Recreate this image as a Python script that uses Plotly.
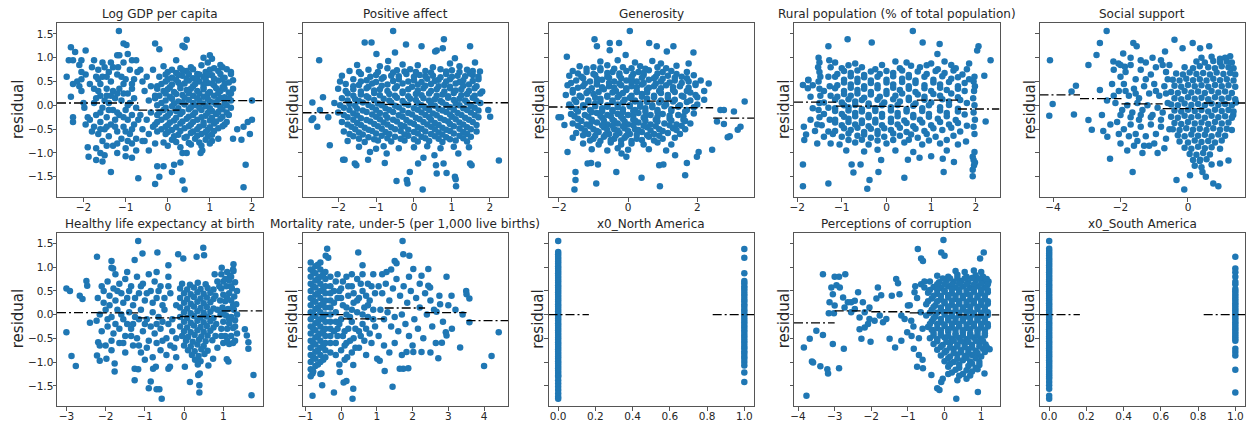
import plotly.graph_objects as go

# ---------------- data ----------------
titles = ["Log GDP per capita", "Positive affect", "Generosity",
          "Rural population (% of total population)", "Social support",
          "Healthy life expectancy at birth",
          "Mortality rate, under-5 (per 1,000 live births)",
          "x0_North America", "Perceptions of corruption", "x0_South America"]

x_ranges = [[-2.63, 2.25], [-2.94, 2.48], [-2.30, 3.64], [-2.07, 2.53], [-4.40, 1.69],
            [-3.24, 2.00], [-1.08, 4.67], [-0.052, 1.052], [-4.11, 1.50], [-0.052, 1.052]]
x_ticks = [[-2, -1, 0, 1, 2], [-2, -1, 0, 1, 2], [-2, 0, 2], [-2, -1, 0, 1, 2], [-4, -2, 0],
           [-3, -2, -1, 0, 1], [-1, 0, 1, 2, 3, 4], [0, 0.2, 0.4, 0.6, 0.8, 1.0],
           [-4, -3, -2, -1, 0, 1], [0, 0.2, 0.4, 0.6, 0.8, 1.0]]
y_ticks = [-1.5, -1.0, -0.5, 0.0, 0.5, 1.0, 1.5]
y_range = [-1.925, 1.73]

# binned residual means (dash-dot segments): start, end, mean
gdp_seg_start = [-2.63, -0.70, 0.28, 1.27]
gdp_seg_end = [-0.70, 0.28, 1.27, 2.25]
gdp_seg_mean = [0.05, -0.10, 0.03, 0.10]
pa_seg_start = [-2.94, -1.87, -0.77, 0.33, 1.39]
pa_seg_end = [-1.87, -0.77, 0.33, 1.39, 2.48]
pa_seg_mean = [-0.155, 0.06, 0.02, -0.03, 0.055]
gen_seg_start = [-2.30, -1.17, 0.05, 1.26, 2.46]
gen_seg_end = [-1.17, 0.05, 1.26, 2.46, 3.64]
gen_seg_mean = [-0.035, 0.02, 0.09, -0.05, -0.27]
rur_seg_start = [-2.07, -1.13, -0.20, 0.68, 1.60]
rur_seg_end = [-1.13, -0.20, 0.68, 1.60, 2.53]
rur_seg_mean = [0.07, -0.015, -0.02, 0.11, -0.077]
soc_seg_start = [-4.40, -3.20, -1.97, -0.75, 0.47]
soc_seg_end = [-3.20, -1.97, -0.75, 0.47, 1.69]
soc_seg_mean = [0.22, 0.14, 0.03, -0.07, 0.05]
hle_seg_start = [-3.24, -2.20, -1.17, -0.10, 0.96]
hle_seg_end = [-2.20, -1.17, -0.10, 0.96, 2.00]
hle_seg_mean = [0.04, 0.035, -0.07, -0.04, 0.08]
mor_seg_start = [-1.08, 0.06, 1.22, 2.35, 3.51]
mor_seg_end = [0.06, 1.22, 2.35, 3.51, 4.67]
mor_seg_mean = [0.0, -0.09, 0.14, 0.04, -0.126]
na_seg_start = [-0.052, 0.83]
na_seg_end = [0.165, 1.052]
na_seg_mean = [0.0, 0.0]
cor_seg_start = [-4.11, -3.00, -2.00, -0.95, 0.36]
cor_seg_end = [-3.00, -2.00, -0.95, 0.36, 1.50]
cor_seg_mean = [-0.175, 0.08, 0.06, 0.035, -0.007]
sa_seg_start = [-0.052, 0.83]
sa_seg_end = [0.165, 1.052]
sa_seg_mean = [0.0, 0.0]

# scatter points (feature value, residual)
gdp_pts = [
    (-1.16, 1.56), (-2.3, 1.22), (-2.2, 1.12), (-1.95, 1.15), (-2.35, 0.95), (-2.25, 0.95), (-2.05, 0.95),
    (-2.4, 0.6), (-2.25, 0.45), (-2.3, 0.18), (-2.25, -0.25), (-2.25, -0.35), (-2.15, 0.5), (-2.1, 0.4),
    (-2.05, 0.55), (-2.0, 0.05), (-1.98, -0.05), (-2.1, 0.85), (-1.95, 0.65), (-1.9, -0.88), (-1.88, -1.08),
    (-1.95, -0.4), (-1.9, -0.25), (-2.05, 0.7), (-2.05, 0.3),
    (-1.05, 1.3), (-0.98, 1.27), (-1.15, 1.05), (-1.2, 1.05), (-0.95, 1.08), (-0.85, 0.95), (-0.75, 0.95),
    (-0.65, 0.75), (-0.3, 1.3), (-0.2, 1.18), (0.35, 1.25), (0.45, 1.38), (0.4, 1.22), (0.2, 0.95),
    (0.85, 1.0), (1.0, 1.05), (1.05, 0.98), (0.95, 0.9), (1.25, 0.85), (1.5, 0.7),
    (-1.35, -1.4), (-0.7, -1.53), (-0.3, -1.65), (-0.2, -1.5), (0.35, -1.58), (0.4, -1.77), (0.3, -1.2),
    (0.1, -1.4), (0.15, -1.25), (0.35, -1.0), (0.45, -1.0), (-0.1, -1.28), (-0.25, -1.28), (-1.0, -1.07),
    (-0.85, -1.1), (-1.7, -1.15), (-1.55, -1.18), (1.85, -1.25), (1.8, -1.72), (1.95, -0.6), (1.9, -0.35),
    (2.0, -0.3), (2.0, 0.1), (1.65, -0.5), (1.75, -0.72), (1.55, -0.7), (1.8, -0.45), (0.78, -1.0),
    (0.82, -0.95), (1.05, -0.75), (1.2, -0.7),
    (-1.8, 0.8), (-1.75, 0.95), (-1.7, 0.6), (-1.65, 0.55), (-1.6, 0.45), (-1.55, 0.6), (-1.5, 0.8),
    (-1.45, 0.35), (-1.4, 0.7), (-1.35, 0.5), (-1.3, 0.3), (-1.18, 0.8), (-1.1, 0.6), (-1.05, 0.9),
    (-0.9, 0.75), (-0.8, 0.55), (-0.72, 0.7), (-1.15, 0.35), (-1.05, 0.45), (-0.95, 0.25), (-0.85, 0.35),
    (-1.6, 0.2), (-1.75, 0.35), (-1.85, 0.45), (-1.7, 0.15), (-1.5, 0.1), (-1.4, 0.05), (-1.25, 0.15),
    (-1.1, 0.1), (-0.9, 0.05), (-0.8, 0.15), (-1.55, -0.05), (-1.3, -0.1), (-1.0, -0.1), (-0.75, -0.05),
    (-1.85, -0.3), (-1.75, -0.45), (-1.7, -0.2), (-1.65, -0.6), (-1.6, -0.35), (-1.55, -0.75), (-1.5, -0.5),
    (-1.45, -0.25), (-1.4, -0.65), (-1.35, -0.4), (-1.3, -0.85), (-1.25, -0.3), (-1.2, -0.55), (-1.15, -0.2),
    (-1.1, -0.7), (-1.05, -0.45), (-1.0, -0.9), (-0.95, -0.3), (-0.9, -0.6), (-0.85, -0.8), (-0.8, -0.4),
    (-0.75, -0.7), (-0.7, -0.3), (-1.7, -0.9), (-1.6, -1.0), (-1.5, -1.05), (-1.2, -1.0), (-0.75, -0.95),
    (-0.6, 0.5), (-0.55, 0.3), (-0.5, 0.6), (-0.45, 0.1), (-0.4, 0.4), (-0.35, 0.75), (-0.3, 0.2),
    (-0.65, -0.2), (-0.6, -0.5), (-0.55, -0.75), (-0.5, -0.3), (-0.45, -0.6), (-0.4, -0.15), (-0.35, -0.45),
    (-0.3, -0.8), (-0.6, -0.75), (-0.45, -0.95),
    (-1.65, 0.75), (-1.45, 0.6), (-1.3, 0.8), (-1.2, 0.65), (-1.0, 0.55), (-0.85, 0.45), (-1.65, 0.3),
    (-1.45, 0.2), (-1.35, 0.2), (-1.2, 0.25), (-1.05, 0.25), (-0.95, 0.0), (-1.75, 0.05), (-1.6, -0.15),
    (-1.4, -0.1), (-1.2, -0.15), (-1.05, -0.25), (-0.85, -0.2), (-1.8, -0.55), (-1.6, -0.5), (-1.45, -0.45),
    (-1.25, -0.45), (-1.0, -0.55), (-0.85, -0.5), (-1.45, -0.85), (-1.2, -0.8), (-0.95, -0.75), (-1.35, 0.9),
    (-1.55, 0.9),
    (-0.1, 0.82), (0.3, 0.78), (0.55, 0.8), (0.8, 0.84), (1.1, 0.78), (1.3, 0.8),
    (0.0, 0.7), (0.2, 0.68), (0.45, 0.72), (0.7, 0.66), (0.9, 0.7), (1.2, 0.72), (1.5, 0.66),
    (-0.2, 0.6), (0.1, 0.58), (0.35, 0.62), (0.6, 0.57), (0.85, 0.6), (1.05, 0.63), (1.35, 0.58),
    (-0.05, 0.5), (0.25, 0.48), (0.5, 0.52), (0.75, 0.5), (0.95, 0.47), (1.2, 0.52), (1.45, 0.48),
    (-0.25, 0.4), (0.05, 0.38), (0.3, 0.42), (0.6, 0.4), (0.85, 0.38), (1.1, 0.42), (1.3, 0.38), (1.55, 0.35),
    (-0.1, 0.3), (0.15, 0.28), (0.45, 0.32), (0.7, 0.3), (1.0, 0.28), (1.25, 0.3), (1.45, 0.27),
    (-0.2, 0.2), (0.05, 0.18), (0.35, 0.22), (0.6, 0.2), (0.85, 0.18), (1.1, 0.2), (1.35, 0.17),
    (-0.05, 0.1), (0.25, 0.08), (0.5, 0.12), (0.75, 0.1), (1.0, 0.08), (1.2, 0.12), (1.5, 0.1),
    (-0.25, 0.0), (0.1, -0.02), (0.4, 0.02), (0.65, 0.0), (0.9, -0.02), (1.15, 0.02), (1.4, 0.0),
    (-0.1, -0.1), (0.2, -0.12), (0.5, -0.08), (0.8, -0.1), (1.05, -0.12), (1.3, -0.08),
    (-0.25, -0.2), (0.0, -0.22), (0.3, -0.18), (0.6, -0.2), (0.9, -0.22), (1.15, -0.18), (1.45, -0.2),
    (-0.15, -0.3), (0.15, -0.32), (0.45, -0.28), (0.7, -0.3), (1.0, -0.32), (1.25, -0.28),
    (-0.3, -0.4), (0.0, -0.42), (0.3, -0.38), (0.55, -0.4), (0.85, -0.42), (1.1, -0.38), (1.35, -0.4),
    (-0.15, -0.5), (0.1, -0.52), (0.4, -0.48), (0.7, -0.5), (0.95, -0.52), (1.2, -0.48),
    (-0.05, -0.6), (0.25, -0.62), (0.55, -0.58), (0.8, -0.6), (1.05, -0.62),
    (0.1, -0.72), (0.4, -0.68), (0.65, -0.7), (0.9, -0.72),
    (0.0, -0.85), (0.3, -0.88), (0.55, -0.82), (0.8, -0.85),
    (0.1, 0.75), (0.35, 0.74), (0.6, 0.76), (1.0, 0.75), (1.4, 0.76),
    (-0.05, 0.65), (0.25, 0.64), (0.5, 0.66), (0.75, 0.65), (0.95, 0.64), (1.25, 0.66),
    (0.0, 0.55), (0.2, 0.54), (0.45, 0.56), (0.7, 0.55), (0.9, 0.54), (1.1, 0.56), (1.3, 0.55), (1.55, 0.53),
    (-0.15, 0.45), (0.1, 0.44), (0.4, 0.46), (0.65, 0.45), (0.85, 0.44), (1.05, 0.46), (1.35, 0.45),
    (-0.25, 0.35), (0.0, 0.34), (0.3, 0.36), (0.55, 0.35), (0.85, 0.34), (1.15, 0.36), (1.35, 0.35),
    (-0.05, 0.25), (0.2, 0.24), (0.5, 0.26), (0.75, 0.25), (0.95, 0.24), (1.2, 0.26), (1.5, 0.25),
    (-0.3, 0.15), (0.1, 0.14), (0.4, 0.16), (0.7, 0.15), (0.95, 0.14), (1.25, 0.16), (1.45, 0.15),
    (-0.15, 0.05), (0.15, 0.04), (0.35, 0.06), (0.6, 0.05), (0.85, 0.04), (1.1, 0.06), (1.35, 0.05),
    (-0.05, -0.05), (0.25, -0.06), (0.55, -0.04), (0.75, -0.05), (1.0, -0.06), (1.25, -0.04), (1.5, -0.05),
    (-0.2, -0.15), (0.05, -0.16), (0.35, -0.14), (0.65, -0.15), (0.95, -0.16), (1.2, -0.14), (1.4, -0.15),
    (-0.05, -0.25), (0.2, -0.26), (0.5, -0.24), (0.8, -0.25), (1.05, -0.26), (1.3, -0.24),
    (-0.25, -0.35), (0.05, -0.36), (0.35, -0.34), (0.6, -0.35), (0.85, -0.36), (1.15, -0.34), (1.4, -0.35),
    (-0.05, -0.45), (0.2, -0.46), (0.5, -0.44), (0.75, -0.45), (1.0, -0.46), (1.3, -0.44),
    (-0.25, -0.55), (0.0, -0.56), (0.3, -0.54), (0.6, -0.55), (0.9, -0.56), (1.1, -0.54),
    (0.15, -0.65), (0.45, -0.66), (0.7, -0.64), (0.95, -0.65),
    (-0.1, -0.78), (0.2, -0.77), (0.5, -0.79), (0.75, -0.78), (1.0, -0.8),
]

pa_pts = [
    (-0.55, 1.56), (-1.30, 1.32), (-1.12, 1.32), (-0.99, 1.08), (-0.21, 1.28), (0.20, 1.24), (0.79, 1.39),
    (0.76, 1.20), (0.60, 1.15), (0.56, 1.13), (1.48, 1.24), (-2.50, 0.95), (-0.50, 1.11), (-0.68, 0.93),
    (0.95, 0.88), (1.08, 0.99), (1.61, 0.90), (1.74, 0.71), (1.48, 0.67),
    (-2.68, 0.06), (-2.40, 0.17), (-2.66, -0.27), (-2.70, -0.31), (-2.55, -0.45), (-2.48, -0.10),
    (-2.22, -0.84), (-2.26, -0.25), (2.01, -0.24), (1.96, -0.10), (2.24, -1.16),
    (0.23, -1.77), (-0.46, -1.59), (-0.19, -1.57), (-0.17, -1.64), (-0.11, -1.40), (1.11, -1.70),
    (1.08, -1.50), (1.10, -1.55), (0.86, -1.42), (0.60, -1.43), (0.11, -1.22), (0.25, -1.10), (0.58, -1.26),
    (0.54, -1.05), (0.78, -1.22), (1.48, -1.22), (1.52, -1.26), (1.17, -1.01),
    (-1.87, -1.14), (-1.83, -1.14), (-1.56, -1.22), (-1.52, -1.26), (-1.21, -1.14), (-1.16, -0.98),
    (-0.77, -1.21), (-0.72, -1.01), (-1.00, -0.91),
    (-1.5, 0.85), (-0.9, 0.82), (-0.3, 0.86), (0.1, 0.84), (0.5, 0.8), (1.2, 0.82),
    (-1.7, 0.72), (-1.2, 0.75), (-0.7, 0.78), (-0.45, 0.74), (-0.1, 0.76), (0.3, 0.72), (0.7, 0.76), (1.0, 0.74), (1.4, 0.75),
    (-1.9, 0.62), (-1.4, 0.66), (-1.0, 0.64), (-0.6, 0.62), (-0.2, 0.66), (0.15, 0.64), (0.5, 0.62), (0.85, 0.66), (1.15, 0.62), (1.55, 0.64),
    (-1.6, 0.55), (-1.25, 0.53), (-0.85, 0.56), (-0.4, 0.55), (0.0, 0.53), (0.35, 0.56), (0.65, 0.54), (0.95, 0.55), (1.3, 0.53), (1.7, 0.55),
    (-1.8, 0.45), (-1.45, 0.43), (-1.1, 0.46), (-0.7, 0.44), (-0.3, 0.46), (0.1, 0.44), (0.45, 0.45), (0.8, 0.43), (1.1, 0.46), (1.45, 0.44),
    (-2.0, 0.35), (-1.6, 0.34), (-1.25, 0.36), (-0.9, 0.34), (-0.5, 0.36), (-0.15, 0.34), (0.25, 0.36), (0.6, 0.34), (0.95, 0.36), (1.25, 0.34), (1.6, 0.36),
    (-1.75, 0.25), (-1.4, 0.23), (-1.05, 0.26), (-0.65, 0.24), (-0.3, 0.26), (0.05, 0.24), (0.4, 0.25), (0.75, 0.23), (1.05, 0.26), (1.4, 0.24), (1.75, 0.25),
    (-1.9, 0.15), (-1.55, 0.13), (-1.2, 0.16), (-0.8, 0.14), (-0.45, 0.16), (-0.1, 0.14), (0.25, 0.15), (0.55, 0.13), (0.9, 0.16), (1.2, 0.14), (1.55, 0.16),
    (-2.1, 0.05), (-1.7, 0.03), (-1.35, 0.06), (-0.95, 0.04), (-0.6, 0.06), (-0.25, 0.04), (0.1, 0.05), (0.45, 0.03), (0.75, 0.06), (1.1, 0.04), (1.4, 0.06), (1.75, 0.05),
    (-1.85, -0.05), (-1.5, -0.07), (-1.1, -0.04), (-0.75, -0.06), (-0.4, -0.04), (0.0, -0.06), (0.3, -0.05), (0.65, -0.07), (0.95, -0.04), (1.3, -0.06), (1.6, -0.05),
    (-2.0, -0.15), (-1.6, -0.17), (-1.25, -0.14), (-0.9, -0.16), (-0.55, -0.14), (-0.15, -0.16), (0.2, -0.15), (0.5, -0.17), (0.85, -0.14), (1.15, -0.16), (1.5, -0.15),
    (-1.75, -0.25), (-1.4, -0.27), (-1.0, -0.24), (-0.7, -0.26), (-0.3, -0.24), (0.05, -0.26), (0.4, -0.25), (0.7, -0.27), (1.0, -0.24), (1.35, -0.26), (1.7, -0.25),
    (-1.9, -0.35), (-1.5, -0.37), (-1.15, -0.34), (-0.8, -0.36), (-0.45, -0.34), (-0.1, -0.36), (0.25, -0.35), (0.55, -0.37), (0.9, -0.34), (1.2, -0.36), (1.55, -0.35),
    (-1.65, -0.45), (-1.3, -0.47), (-0.95, -0.44), (-0.6, -0.46), (-0.25, -0.44), (0.1, -0.46), (0.45, -0.45), (0.75, -0.47), (1.05, -0.44), (1.4, -0.46),
    (-1.85, -0.55), (-1.45, -0.57), (-1.1, -0.54), (-0.75, -0.56), (-0.35, -0.54), (0.0, -0.56), (0.3, -0.55), (0.65, -0.57), (0.95, -0.54), (1.3, -0.56), (1.65, -0.55),
    (-1.6, -0.65), (-1.2, -0.67), (-0.85, -0.64), (-0.5, -0.66), (-0.15, -0.64), (0.2, -0.66), (0.55, -0.65), (0.85, -0.67), (1.2, -0.64), (1.5, -0.66),
    (-1.75, -0.75), (-1.3, -0.77), (-0.95, -0.74), (-0.6, -0.76), (-0.25, -0.74), (0.1, -0.76), (0.4, -0.75), (0.75, -0.77), (1.1, -0.74), (1.4, -0.76),
    (-1.45, -0.87), (-0.8, -0.86), (-0.4, -0.9), (0.0, -0.88), (0.35, -0.86), (0.7, -0.9), (1.05, -0.87), (1.45, -0.88),
    (-1.45, 0.7), (-0.95, 0.7), (-0.55, 0.69), (-0.25, 0.71), (0.05, 0.7), (0.45, 0.69), (0.85, 0.71), (1.2, 0.7), (1.55, 0.72),
    (-1.15, 0.6), (-0.8, 0.59), (-0.4, 0.61), (0.0, 0.6), (0.3, 0.61), (0.7, 0.59), (1.0, 0.6), (1.35, 0.61), (1.7, 0.6),
    (-1.95, 0.5), (-1.4, 0.5), (-1.0, 0.49), (-0.55, 0.51), (-0.15, 0.5), (0.2, 0.49), (0.55, 0.51), (0.85, 0.5), (1.2, 0.49), (1.55, 0.51),
    (-1.6, 0.4), (-1.2, 0.39), (-0.85, 0.41), (-0.45, 0.4), (-0.05, 0.39), (0.3, 0.41), (0.65, 0.4), (0.95, 0.39), (1.3, 0.41), (1.65, 0.4),
    (-1.8, 0.3), (-1.4, 0.29), (-1.05, 0.31), (-0.7, 0.3), (-0.3, 0.29), (0.1, 0.31), (0.45, 0.3), (0.8, 0.29), (1.1, 0.31), (1.45, 0.3), (1.8, 0.29),
    (-1.6, 0.2), (-1.25, 0.19), (-0.9, 0.21), (-0.5, 0.2), (-0.15, 0.19), (0.2, 0.21), (0.6, 0.2), (0.9, 0.19), (1.25, 0.21), (1.6, 0.2),
    (-1.75, 0.1), (-1.45, 0.09), (-1.05, 0.11), (-0.65, 0.1), (-0.3, 0.09), (0.05, 0.11), (0.4, 0.1), (0.7, 0.09), (1.05, 0.11), (1.35, 0.1), (1.65, 0.09),
    (-1.95, 0.0), (-1.55, -0.01), (-1.2, 0.01), (-0.85, 0.0), (-0.5, -0.01), (-0.15, 0.01), (0.2, 0.0), (0.55, -0.01), (0.85, 0.01), (1.2, 0.0), (1.5, -0.01),
    (-1.7, -0.1), (-1.35, -0.11), (-1.0, -0.09), (-0.65, -0.1), (-0.3, -0.11), (0.1, -0.09), (0.4, -0.1), (0.75, -0.11), (1.05, -0.09), (1.4, -0.1), (1.7, -0.11),
    (-1.85, -0.2), (-1.5, -0.21), (-1.1, -0.19), (-0.75, -0.2), (-0.4, -0.21), (-0.05, -0.19), (0.3, -0.2), (0.6, -0.21), (0.95, -0.19), (1.25, -0.2), (1.6, -0.21),
    (-1.6, -0.3), (-1.25, -0.31), (-0.9, -0.29), (-0.55, -0.3), (-0.2, -0.31), (0.15, -0.29), (0.45, -0.3), (0.8, -0.31), (1.1, -0.29), (1.45, -0.3),
    (-1.75, -0.4), (-1.4, -0.41), (-1.05, -0.39), (-0.7, -0.4), (-0.35, -0.41), (0.0, -0.39), (0.35, -0.4), (0.65, -0.41), (0.95, -0.39), (1.3, -0.4), (1.65, -0.41),
    (-1.55, -0.5), (-1.2, -0.51), (-0.85, -0.49), (-0.5, -0.5), (-0.15, -0.51), (0.2, -0.49), (0.55, -0.5), (0.85, -0.51), (1.2, -0.49), (1.5, -0.5),
    (-1.7, -0.6), (-1.35, -0.61), (-1.0, -0.59), (-0.65, -0.6), (-0.25, -0.61), (0.1, -0.59), (0.45, -0.6), (0.75, -0.61), (1.05, -0.59), (1.4, -0.6),
    (-1.45, -0.7), (-1.05, -0.71), (-0.7, -0.69), (-0.35, -0.7), (0.0, -0.71), (0.3, -0.69), (0.65, -0.7), (0.95, -0.71), (1.3, -0.69),
]

gen_pts = [
    (0.05, 1.56), (-0.97, 1.39), (-0.90, 1.24), (-0.53, 1.31), (-0.26, 1.31), (-0.53, 1.16), (0.61, 1.31),
    (1.12, 1.13), (1.31, 1.24), (1.89, 1.11), (1.75, 0.88), (-1.77, 1.02), (-0.07, 1.06), (0.83, 1.24),
    (2.33, 0.46), (2.67, -0.10), (2.77, -0.10), (3.37, 0.08), (3.06, -0.13), (2.57, -0.34), (2.77, -0.39),
    (3.25, -0.45), (3.17, -0.51), (2.94, -0.65), (2.88, -0.67), (2.43, -0.93), (2.04, -0.98), (1.99, -1.08),
    (1.70, -1.21), (1.65, -1.47),
    (-2.01, -0.25), (-1.94, -0.25), (-1.84, -0.41), (-1.75, -0.98), (-1.52, -1.40), (-1.52, -1.57),
    (-1.55, -1.77), (-0.92, -1.64), (-1.17, -1.22), (-1.07, -1.21), (-0.87, -1.24), (-0.34, -1.40),
    (0.39, -1.52), (0.92, -1.70), (0.90, -1.26), (1.02, -1.24), (1.36, -1.05), (-0.19, -1.01), (-0.05, -1.08),
    (-0.8, 0.92), (-0.3, 0.95), (0.2, 0.9), (0.7, 0.93), (0.95, 0.88),
    (-1.4, 0.82), (-1.0, 0.8), (-0.6, 0.84), (-0.15, 0.8), (0.35, 0.82), (0.85, 0.8), (1.4, 0.83),
    (-1.6, 0.72), (-1.2, 0.7), (-0.8, 0.74), (-0.45, 0.7), (-0.05, 0.72), (0.3, 0.7), (0.6, 0.74), (1.0, 0.7), (1.25, 0.72), (1.7, 0.7),
    (-1.7, 0.62), (-1.35, 0.6), (-0.95, 0.64), (-0.6, 0.6), (-0.25, 0.62), (0.1, 0.6), (0.45, 0.64), (0.8, 0.6), (1.15, 0.62), (1.55, 0.6), (1.9, 0.63),
    (-1.5, 0.52), (-1.1, 0.5), (-0.75, 0.54), (-0.4, 0.5), (-0.05, 0.52), (0.25, 0.5), (0.6, 0.54), (0.95, 0.5), (1.35, 0.52), (1.75, 0.5), (2.1, 0.52),
    (-1.75, 0.42), (-1.3, 0.4), (-0.9, 0.44), (-0.55, 0.4), (-0.2, 0.42), (0.1, 0.4), (0.4, 0.44), (0.75, 0.4), (1.1, 0.42), (1.5, 0.4), (1.95, 0.43),
    (-1.6, 0.32), (-1.15, 0.3), (-0.7, 0.34), (-0.35, 0.3), (-0.05, 0.32), (0.25, 0.3), (0.55, 0.34), (0.9, 0.3), (1.3, 0.32), (1.7, 0.3), (2.2, 0.3),
    (-1.8, 0.22), (-1.4, 0.2), (-1.0, 0.24), (-0.6, 0.2), (-0.25, 0.22), (0.1, 0.2), (0.4, 0.24), (0.75, 0.2), (1.15, 0.22), (1.55, 0.2), (1.95, 0.22),
    (-1.55, 0.12), (-1.15, 0.1), (-0.8, 0.14), (-0.45, 0.1), (-0.1, 0.12), (0.2, 0.1), (0.55, 0.14), (0.95, 0.1), (1.35, 0.12), (1.8, 0.1), (2.2, 0.12),
    (-1.7, 0.02), (-1.3, 0.0), (-0.95, 0.04), (-0.6, 0.0), (-0.3, 0.02), (0.05, 0.0), (0.35, 0.04), (0.7, 0.0), (1.1, 0.02), (1.5, 0.0), (2.0, 0.02),
    (-1.5, -0.08), (-1.1, -0.1), (-0.75, -0.06), (-0.45, -0.1), (-0.15, -0.08), (0.2, -0.1), (0.5, -0.06), (0.85, -0.1), (1.25, -0.08), (1.7, -0.1),
    (-1.65, -0.18), (-1.25, -0.2), (-0.9, -0.16), (-0.6, -0.2), (-0.3, -0.18), (0.0, -0.2), (0.3, -0.16), (0.65, -0.2), (1.0, -0.18), (1.45, -0.2), (1.9, -0.17),
    (-1.45, -0.28), (-1.05, -0.3), (-0.75, -0.26), (-0.45, -0.3), (-0.15, -0.28), (0.15, -0.3), (0.45, -0.26), (0.8, -0.3), (1.2, -0.28), (1.6, -0.3),
    (-1.6, -0.38), (-1.2, -0.4), (-0.9, -0.36), (-0.6, -0.4), (-0.3, -0.38), (0.0, -0.4), (0.3, -0.36), (0.65, -0.4), (1.05, -0.38), (1.4, -0.4), (1.8, -0.38),
    (-1.35, -0.48), (-1.0, -0.5), (-0.7, -0.46), (-0.4, -0.5), (-0.1, -0.48), (0.2, -0.5), (0.55, -0.46), (0.9, -0.5), (1.3, -0.48), (1.65, -0.5),
    (-1.5, -0.58), (-1.15, -0.6), (-0.85, -0.56), (-0.55, -0.6), (-0.25, -0.58), (0.05, -0.6), (0.4, -0.56), (0.75, -0.6), (1.15, -0.58), (1.5, -0.6),
    (-1.6, -0.68), (-1.0, -0.7), (-0.7, -0.66), (-0.4, -0.7), (-0.1, -0.68), (0.25, -0.7), (0.6, -0.66), (1.0, -0.7), (1.35, -0.68),
    (-1.3, -0.8), (-0.85, -0.82), (-0.5, -0.78), (-0.2, -0.82), (0.1, -0.8), (0.45, -0.82), (0.85, -0.78), (1.25, -0.82),
    (-1.05, -0.92), (-0.6, -0.95), (-0.3, -0.9), (0.0, -0.93), (0.6, -0.92), (1.1, -0.95),
    (-1.2, 0.77), (-0.8, 0.78), (-0.4, 0.77), (0.1, 0.78), (0.5, 0.77), (1.1, 0.78),
    (-1.45, 0.67), (-1.0, 0.66), (-0.6, 0.68), (-0.25, 0.67), (0.15, 0.66), (0.45, 0.68), (0.85, 0.67), (1.4, 0.66),
    (-1.3, 0.57), (-0.9, 0.56), (-0.55, 0.58), (-0.2, 0.57), (0.1, 0.56), (0.4, 0.58), (0.75, 0.57), (1.0, 0.56), (1.35, 0.58), (1.7, 0.57),
    (-1.65, 0.47), (-1.25, 0.46), (-0.9, 0.48), (-0.55, 0.47), (-0.25, 0.46), (0.1, 0.48), (0.45, 0.47), (0.8, 0.46), (1.2, 0.48), (1.55, 0.47), (1.95, 0.46),
    (-1.45, 0.37), (-1.05, 0.36), (-0.75, 0.38), (-0.4, 0.37), (-0.05, 0.36), (0.25, 0.38), (0.6, 0.37), (0.95, 0.36), (1.3, 0.38), (1.75, 0.37),
    (-1.6, 0.27), (-1.2, 0.26), (-0.85, 0.28), (-0.45, 0.27), (-0.15, 0.26), (0.25, 0.28), (0.55, 0.27), (0.95, 0.26), (1.35, 0.28), (1.8, 0.27),
    (-1.35, 0.17), (-0.95, 0.16), (-0.6, 0.18), (-0.3, 0.17), (0.05, 0.16), (0.4, 0.18), (0.75, 0.17), (1.15, 0.16), (1.6, 0.18), (2.0, 0.17),
    (-1.5, 0.07), (-1.15, 0.06), (-0.8, 0.08), (-0.45, 0.07), (-0.15, 0.06), (0.2, 0.08), (0.55, 0.07), (0.9, 0.06), (1.3, 0.08), (1.7, 0.07),
    (-1.65, -0.03), (-1.3, -0.04), (-0.95, -0.02), (-0.6, -0.03), (-0.3, -0.04), (0.05, -0.02), (0.35, -0.03), (0.7, -0.04), (1.05, -0.02), (1.45, -0.03), (1.9, -0.04),
    (-1.45, -0.13), (-1.05, -0.14), (-0.75, -0.12), (-0.45, -0.13), (-0.15, -0.14), (0.15, -0.12), (0.5, -0.13), (0.85, -0.14), (1.25, -0.12), (1.65, -0.13),
    (-1.55, -0.23), (-1.15, -0.24), (-0.8, -0.22), (-0.5, -0.23), (-0.2, -0.24), (0.15, -0.22), (0.5, -0.23), (0.85, -0.24), (1.2, -0.22), (1.6, -0.23),
    (-1.35, -0.33), (-1.05, -0.34), (-0.7, -0.32), (-0.4, -0.33), (-0.1, -0.34), (0.2, -0.32), (0.5, -0.33), (0.85, -0.34), (1.25, -0.32), (1.65, -0.33),
    (-1.45, -0.43), (-1.1, -0.44), (-0.75, -0.42), (-0.45, -0.43), (-0.15, -0.44), (0.15, -0.42), (0.45, -0.43), (0.8, -0.44), (1.2, -0.42), (1.55, -0.43),
    (-1.25, -0.53), (-0.9, -0.54), (-0.6, -0.52), (-0.3, -0.53), (0.0, -0.54), (0.3, -0.52), (0.65, -0.53), (1.0, -0.54), (1.4, -0.52),
    (-1.3, -0.63), (-0.95, -0.64), (-0.65, -0.62), (-0.35, -0.63), (-0.05, -0.64), (0.25, -0.62), (0.55, -0.63), (0.9, -0.64),
    (-1.1, -0.74), (-0.8, -0.75), (-0.5, -0.73), (-0.2, -0.74), (0.1, -0.75), (0.4, -0.73), (0.75, -0.74),
]

rur_pts = [
    (0.59, 1.56), (-0.87, 1.39), (-0.33, 1.32), (-1.30, 1.24), (0.81, 1.32), (1.19, 1.29), (1.14, 1.08),
    (2.06, 1.24), (2.03, 1.15), (2.33, 0.95), (2.19, 0.62), (2.22, -0.34),
    (-1.87, -1.24), (-1.87, -1.70), (-1.30, -1.64), (-0.43, -1.75), (-0.38, -1.57), (-0.18, -1.40),
    (0.40, -1.52), (-0.74, -1.41), (-0.78, -1.24), (-0.58, -1.24), (-0.12, -1.15), (0.48, -1.14),
    (0.74, -1.10), (1.00, -1.07), (1.26, -1.12), (1.28, -1.40), (1.51, -1.19), (1.93, -1.49), (1.96, -1.26),
    (1.93, -1.08), (1.97, -0.98), (1.78, -0.76), (-1.84, -0.73), (-1.80, -0.61), (-1.85, -0.45),
    (-1.87, 0.43), (-1.76, 0.36), (-1.75, 0.53),
    (-1.52, 1.0), (-1.5, 0.9), (-1.53, 0.8), (-1.5, 0.7), (-1.48, 0.6), (-1.52, 0.5), (-1.5, 0.35), (-1.48, 0.2),
    (-1.5, 0.05), (-1.52, -0.1), (-1.5, -0.25), (-1.55, -0.4),
    (1.97, 0.6), (1.95, 0.5), (1.98, 0.4), (1.96, 0.3), (1.94, 0.15), (1.97, 0.0), (1.95, -0.15), (1.98, -0.3),
    (1.95, -0.45), (1.97, -0.6), (1.95, -1.15), (1.98, -1.2), (1.93, -1.35),
    (-1.28, 0.95), (-1.25, 0.8), (-1.3, 0.6), (-1.27, 0.4), (-1.25, 0.2), (-1.3, -0.05), (-1.27, -0.3), (-1.3, -0.55), (-1.25, -0.8),
    (-1.15, 0.9), (-0.7, 0.88), (0.2, 0.92), (0.45, 0.9), (1.0, 0.88), (1.3, 0.92), (1.85, 0.88),
    (-1.0, 0.78), (-0.55, 0.8), (-0.25, 0.76), (0.3, 0.78), (0.75, 0.8), (1.15, 0.76), (1.55, 0.78), (1.8, 0.76),
    (-1.1, 0.66), (-0.8, 0.68), (-0.5, 0.64), (-0.15, 0.66), (0.15, 0.68), (0.5, 0.64), (0.9, 0.66), (1.3, 0.68), (1.7, 0.65),
    (-1.75, 0.54), (-0.95, 0.54), (-0.65, 0.56), (-0.35, 0.52), (0.0, 0.54), (0.35, 0.56), (0.65, 0.52), (1.05, 0.54), (1.45, 0.56), (1.85, 0.55),
    (-1.65, 0.42), (-1.1, 0.42), (-0.8, 0.44), (-0.5, 0.4), (-0.2, 0.42), (0.15, 0.44), (0.5, 0.4), (0.85, 0.42), (1.2, 0.44), (1.6, 0.4),
    (-1.4, 0.3), (-0.95, 0.3), (-0.65, 0.32), (-0.35, 0.28), (0.0, 0.3), (0.3, 0.32), (0.65, 0.28), (1.0, 0.3), (1.35, 0.32), (1.75, 0.3),
    (-1.7, 0.18), (-1.1, 0.18), (-0.8, 0.2), (-0.5, 0.16), (-0.15, 0.18), (0.2, 0.2), (0.5, 0.16), (0.85, 0.18), (1.2, 0.2), (1.6, 0.17),
    (-1.4, 0.06), (-1.0, 0.06), (-0.7, 0.08), (-0.4, 0.04), (-0.05, 0.06), (0.3, 0.08), (0.65, 0.04), (1.0, 0.06), (1.4, 0.08), (1.8, 0.05),
    (-1.65, -0.06), (-1.15, -0.06), (-0.85, -0.04), (-0.55, -0.08), (-0.25, -0.06), (0.1, -0.04), (0.45, -0.08), (0.8, -0.06), (1.2, -0.04), (1.6, -0.07),
    (-1.4, -0.18), (-1.0, -0.18), (-0.7, -0.16), (-0.4, -0.2), (-0.1, -0.18), (0.25, -0.16), (0.6, -0.2), (0.95, -0.18), (1.35, -0.16), (1.75, -0.19),
    (-1.7, -0.3), (-1.15, -0.3), (-0.85, -0.28), (-0.55, -0.32), (-0.25, -0.3), (0.1, -0.28), (0.4, -0.32), (0.75, -0.3), (1.15, -0.28), (1.55, -0.31),
    (-1.45, -0.42), (-1.0, -0.42), (-0.7, -0.4), (-0.4, -0.44), (-0.1, -0.42), (0.25, -0.4), (0.6, -0.44), (1.0, -0.42), (1.4, -0.4), (1.8, -0.43),
    (-1.6, -0.54), (-1.15, -0.54), (-0.8, -0.52), (-0.5, -0.56), (-0.2, -0.54), (0.1, -0.52), (0.45, -0.56), (0.85, -0.54), (1.25, -0.52), (1.65, -0.55),
    (-1.4, -0.66), (-1.0, -0.66), (-0.65, -0.64), (-0.35, -0.68), (-0.05, -0.66), (0.3, -0.64), (0.7, -0.68), (1.1, -0.66), (1.5, -0.64),
    (-1.55, -0.8), (-1.05, -0.82), (-0.7, -0.78), (-0.4, -0.82), (0.0, -0.8), (0.4, -0.78), (0.8, -0.82), (1.2, -0.8), (1.6, -0.82),
    (-0.9, -0.95), (-0.5, -0.97), (-0.2, -0.93), (0.2, -0.95), (0.6, -0.98), (1.35, -0.95),
    (-0.85, 0.84), (-0.1, 0.85), (0.55, 0.83), (0.9, 0.84), (1.45, 0.85),
    (-0.95, 0.72), (-0.65, 0.73), (-0.35, 0.71), (0.0, 0.72), (0.35, 0.73), (0.7, 0.71), (1.1, 0.72), (1.5, 0.73),
    (-1.15, 0.6), (-0.8, 0.61), (-0.5, 0.59), (-0.2, 0.6), (0.15, 0.61), (0.5, 0.59), (0.85, 0.6), (1.25, 0.61), (1.6, 0.59),
    (-0.95, 0.48), (-0.65, 0.49), (-0.35, 0.47), (0.0, 0.48), (0.35, 0.49), (0.65, 0.47), (1.05, 0.48), (1.4, 0.49), (1.75, 0.47),
    (-1.15, 0.36), (-0.8, 0.37), (-0.5, 0.35), (-0.2, 0.36), (0.15, 0.37), (0.5, 0.35), (0.85, 0.36), (1.2, 0.37), (1.6, 0.35),
    (-0.95, 0.24), (-0.65, 0.25), (-0.35, 0.23), (0.0, 0.24), (0.35, 0.25), (0.7, 0.23), (1.05, 0.24), (1.45, 0.25),
    (-1.15, 0.12), (-0.85, 0.13), (-0.55, 0.11), (-0.2, 0.12), (0.15, 0.13), (0.5, 0.11), (0.85, 0.12), (1.25, 0.13), (1.65, 0.11),
    (-0.95, 0.0), (-0.7, 0.01), (-0.4, -0.01), (-0.1, 0.0), (0.25, 0.01), (0.6, -0.01), (0.95, 0.0), (1.4, 0.01),
    (-1.15, -0.12), (-0.85, -0.11), (-0.55, -0.13), (-0.25, -0.12), (0.1, -0.11), (0.45, -0.13), (0.8, -0.12), (1.2, -0.11), (1.6, -0.13),
    (-0.95, -0.24), (-0.7, -0.23), (-0.4, -0.25), (-0.1, -0.24), (0.25, -0.23), (0.6, -0.25), (0.95, -0.24), (1.35, -0.23),
    (-1.15, -0.36), (-0.85, -0.35), (-0.55, -0.37), (-0.25, -0.36), (0.1, -0.35), (0.45, -0.37), (0.8, -0.36), (1.2, -0.35), (1.6, -0.37),
    (-0.95, -0.48), (-0.65, -0.47), (-0.35, -0.49), (-0.05, -0.48), (0.3, -0.47), (0.65, -0.49), (1.05, -0.48), (1.45, -0.47),
    (-1.2, -0.6), (-0.85, -0.59), (-0.5, -0.61), (-0.2, -0.6), (0.15, -0.59), (0.55, -0.61), (0.9, -0.6),
    (-0.85, -0.73), (-0.55, -0.72), (-0.2, -0.74), (0.15, -0.73), (0.5, -0.72), (0.95, -0.74), (1.35, -0.73),
]

soc_pts = [
    (-2.41, 1.56), (-4.09, 0.95), (-4.01, 0.03), (-4.11, -0.22), (-3.45, 0.29), (-3.32, 0.41), (-3.38, -0.19),
    (-2.95, 0.85), (-2.95, -0.31), (-2.85, -0.51), (-2.61, 1.31), (-2.71, 1.06), (-2.61, 0.32), (-2.51, -0.54),
    (-2.39, -0.66), (-2.31, -1.12), (-1.62, 1.31), (-1.52, 1.24), (-1.92, 1.09), (-2.21, 0.92), (-2.06, 0.88),
    (-1.87, 0.81), (-1.64, -1.40), (-0.68, 1.13), (-0.40, 1.38), (-0.16, 1.20), (0.14, 1.31), (0.36, 1.20),
    (0.63, 1.24), (-0.34, -1.57), (-0.11, -1.77), (0.06, -1.47), (0.43, -1.40), (0.53, -1.50), (0.75, -1.64),
    (0.90, -1.70), (1.20, -1.16), (0.36, -1.14), (0.70, -1.24), (0.95, -1.22), (1.42, 0.06), (1.34, -0.20),
    (-2.2, 0.75), (-2.0, 0.6), (-1.85, 0.7), (-1.7, 0.85), (-1.55, 0.55), (-1.4, 0.75), (-1.25, 0.9), (-1.1, 0.65),
    (-0.95, 0.8), (-0.8, 0.95), (-0.65, 0.7),
    (-2.25, 0.45), (-2.05, 0.3), (-1.9, 0.45), (-1.75, 0.2), (-1.6, 0.35), (-1.45, 0.15), (-1.3, 0.4), (-1.15, 0.25),
    (-1.0, 0.45), (-0.85, 0.2), (-0.7, 0.4),
    (-2.15, 0.05), (-1.95, -0.1), (-1.8, 0.0), (-1.65, -0.15), (-1.5, 0.05), (-1.35, -0.1), (-1.2, 0.0), (-1.05, -0.2),
    (-0.9, -0.05), (-0.75, -0.15), (-0.6, 0.05),
    (-2.3, -0.4), (-2.1, -0.35), (-1.9, -0.5), (-1.7, -0.4), (-1.55, -0.6), (-1.4, -0.45), (-1.25, -0.65), (-1.1, -0.4),
    (-0.95, -0.6), (-0.8, -0.45), (-0.65, -0.7),
    (-2.0, -0.8), (-1.8, -0.95), (-1.6, -0.85), (-1.35, -1.0), (-1.15, -0.85), (-0.9, -1.0), (-0.7, -0.9),
    (-1.45, -0.3), (-2.4, 0.1), (-2.55, -0.2),
    (-2.2, 0.2), (-2.0, -0.2), (-1.85, 0.3), (-1.7, -0.25), (-1.55, 0.25), (-1.4, -0.2), (-1.25, 0.55), (-1.1, -0.25),
    (-0.95, 0.3), (-0.8, -0.3), (-0.65, 0.25), (-0.55, -0.5), (-0.6, 0.55), (-0.55, 0.85), (-1.0, -0.8), (-1.3, -0.85),
    (-1.5, -0.75), (-1.75, -0.65), (-2.05, -0.6), (-0.75, 0.85), (-1.05, 1.0), (-1.4, 0.95), (-1.7, 1.0), (-2.0, 0.85),
    (0.4, 1.0), (0.7, 1.02), (0.95, 0.98), (1.1, 1.0), (1.25, 1.03),
    (0.25, 0.92), (0.5, 0.9), (0.75, 0.93), (0.95, 0.9), (1.15, 0.92), (1.3, 0.9),
    (-0.1, 0.8), (0.15, 0.78), (0.35, 0.82), (0.6, 0.8), (0.8, 0.78), (1.0, 0.82), (1.2, 0.8), (1.35, 0.78),
    (-0.35, 0.67), (-0.15, 0.65), (0.05, 0.69), (0.25, 0.66), (0.45, 0.68), (0.65, 0.65), (0.85, 0.69), (1.05, 0.66), (1.25, 0.68), (1.4, 0.65),
    (-0.45, 0.54), (-0.25, 0.52), (-0.05, 0.56), (0.15, 0.53), (0.35, 0.55), (0.55, 0.52), (0.75, 0.56), (0.95, 0.53), (1.15, 0.55), (1.35, 0.52),
    (-0.4, 0.41), (-0.2, 0.39), (0.0, 0.43), (0.2, 0.4), (0.4, 0.42), (0.6, 0.39), (0.8, 0.43), (1.0, 0.4), (1.2, 0.42), (1.4, 0.39),
    (-0.5, 0.28), (-0.3, 0.26), (-0.1, 0.3), (0.1, 0.27), (0.3, 0.29), (0.5, 0.26), (0.7, 0.3), (0.9, 0.27), (1.1, 0.29), (1.3, 0.26),
    (-0.4, 0.15), (-0.2, 0.13), (0.0, 0.17), (0.2, 0.14), (0.4, 0.16), (0.6, 0.13), (0.8, 0.17), (1.0, 0.14), (1.2, 0.16), (1.4, 0.13),
    (-0.5, 0.02), (-0.3, 0.0), (-0.1, 0.04), (0.1, 0.01), (0.3, 0.03), (0.5, 0.0), (0.7, 0.04), (0.9, 0.01), (1.1, 0.03), (1.3, 0.0),
    (-0.4, -0.11), (-0.2, -0.13), (0.0, -0.09), (0.2, -0.12), (0.4, -0.1), (0.6, -0.13), (0.8, -0.09), (1.0, -0.12), (1.2, -0.1), (1.35, -0.13),
    (-0.5, -0.24), (-0.3, -0.26), (-0.1, -0.22), (0.1, -0.25), (0.3, -0.23), (0.5, -0.26), (0.7, -0.22), (0.9, -0.25), (1.1, -0.23), (1.3, -0.26),
    (-0.4, -0.37), (-0.2, -0.39), (0.0, -0.35), (0.2, -0.38), (0.4, -0.36), (0.6, -0.39), (0.8, -0.35), (1.0, -0.38), (1.2, -0.36),
    (-0.45, -0.5), (-0.25, -0.52), (-0.05, -0.48), (0.15, -0.51), (0.35, -0.49), (0.55, -0.52), (0.75, -0.48), (0.95, -0.51), (1.15, -0.49), (1.3, -0.52),
    (-0.3, -0.63), (-0.1, -0.65), (0.1, -0.61), (0.3, -0.64), (0.5, -0.62), (0.7, -0.65), (0.9, -0.61), (1.1, -0.64),
    (-0.25, -0.76), (0.0, -0.78), (0.2, -0.74), (0.4, -0.77), (0.6, -0.75), (0.8, -0.78), (1.0, -0.74),
    (-0.1, -0.89), (0.1, -0.91), (0.3, -0.87), (0.5, -0.9), (0.7, -0.88), (0.95, -0.91),
    (0.05, -1.02), (0.25, -1.04), (0.45, -1.0), (0.65, -1.03), (0.15, -1.15), (0.35, -1.17), (0.55, -1.13),
    (0.2, -1.27), (0.4, -1.3),
]

hle_pts = [
    (-1.17, 1.55), (-2.22, 1.22), (-3.0, 0.55), (-2.91, 0.50), (-3.0, -0.37), (-2.87, -0.87), (-2.76, -1.08),
    (-2.66, 0.40), (-2.59, 0.33), (-2.49, 0.71), (-2.47, 0.61), (-2.40, -0.17), (-2.23, -0.13), (-1.85, 1.13),
    (-1.85, 0.99), (-1.81, 0.97), (-1.26, 1.15), (-1.06, 1.29), (-0.68, 1.31), (-0.40, 1.04), (-0.15, 1.27),
    (-0.02, 1.18), (0.32, 1.22), (0.49, 1.41), (0.51, 1.25), (0.96, 0.99), (1.26, 1.06), (1.26, 0.92), (1.17, 0.82),
    (-0.57, -1.77), (-0.70, -1.57), (-0.63, -1.57), (-0.90, -1.55), (-0.85, -1.41), (-1.26, -1.38), (-1.26, -1.14),
    (-1.17, -1.15), (-1.77, -1.20), (-1.77, -1.03), (-0.79, -1.14), (-0.72, -1.10), (-0.40, -1.14), (-0.36, -1.10),
    (0.02, -1.10), (0.15, -1.42), (0.39, -1.49), (0.39, -1.64), (0.36, -1.27), (0.40, -1.24), (0.62, -1.07),
    (0.74, -0.93), (1.09, -0.94), (1.13, -0.99), (1.72, -1.70), (1.77, -1.27), (1.64, -0.72), (1.60, -0.44),
    (1.55, -0.31), (1.64, -0.58), (-2.15, -0.97), (-1.98, -0.93), (-2.22, -0.86), (-2.15, -0.65), (-2.19, -0.58),
    (-2.1, 0.6), (-1.95, 0.7), (-1.8, 0.55), (-1.65, 0.65), (-1.5, 0.75), (-1.35, 0.6), (-1.2, 0.8), (-1.05, 0.65),
    (-0.9, 0.85), (-0.75, 0.7), (-0.6, 0.6), (-0.4, 0.8),
    (-2.2, 0.35), (-2.05, 0.25), (-1.9, 0.4), (-1.75, 0.3), (-1.6, 0.45), (-1.45, 0.35), (-1.3, 0.2), (-1.15, 0.45),
    (-1.0, 0.3), (-0.85, 0.5), (-0.7, 0.35), (-0.55, 0.2), (-0.35, 0.45),
    (-2.15, 0.0), (-2.0, 0.1), (-1.85, -0.05), (-1.7, 0.1), (-1.55, -0.1), (-1.4, 0.05), (-1.25, -0.05), (-1.1, 0.1),
    (-0.95, -0.1), (-0.8, 0.05), (-0.65, -0.05), (-0.5, 0.1), (-0.3, -0.1),
    (-2.1, -0.35), (-1.95, -0.25), (-1.8, -0.4), (-1.65, -0.3), (-1.5, -0.45), (-1.35, -0.3), (-1.2, -0.5), (-1.05, -0.35),
    (-0.9, -0.55), (-0.75, -0.4), (-0.6, -0.3), (-0.45, -0.5), (-0.3, -0.35),
    (-2.0, -0.65), (-1.85, -0.75), (-1.65, -0.6), (-1.5, -0.8), (-1.3, -0.65), (-1.1, -0.8), (-0.95, -0.7), (-0.8, -0.9),
    (-0.6, -0.75), (-0.45, -0.85), (-0.25, -0.7),
    (-2.05, 0.5), (-1.9, 0.2), (-1.7, 0.5), (-1.55, 0.25), (-1.4, 0.5), (-1.25, 0.35), (-1.1, 0.6), (-0.95, 0.45),
    (-0.8, 0.25), (-0.65, 0.5), (-0.5, 0.35), (-0.4, 0.6), (-1.95, -0.1), (-1.75, -0.2), (-1.6, 0.0), (-1.45, -0.2),
    (-1.3, -0.2), (-1.15, -0.1), (-1.0, -0.2), (-0.85, -0.25), (-0.7, -0.2), (-0.55, -0.15), (-0.4, -0.2), (-0.2, 0.2),
    (-0.2, -0.5), (-1.85, -0.55), (-1.55, -0.6), (-1.35, -0.45), (-1.15, -0.65), (-0.7, -0.6), (-0.55, -0.55),
    (-0.35, -0.65), (-0.2, -0.9), (-1.0, -0.95), (-0.7, 0.9), (-1.45, 0.9), (-1.75, 0.85),
    (-0.05, 0.65), (0.15, 0.63), (0.35, 0.67), (0.55, 0.64),
    (-0.1, 0.55), (0.08, 0.53), (0.25, 0.57), (0.42, 0.54), (0.6, 0.56), (0.75, 0.53),
    (0.0, 0.45), (0.17, 0.43), (0.34, 0.47), (0.5, 0.44), (0.67, 0.46),
    (-0.1, 0.35), (0.08, 0.33), (0.25, 0.37), (0.42, 0.34), (0.58, 0.36), (0.75, 0.33),
    (0.0, 0.25), (0.17, 0.23), (0.34, 0.27), (0.5, 0.24), (0.67, 0.26),
    (-0.1, 0.15), (0.08, 0.13), (0.25, 0.17), (0.42, 0.14), (0.58, 0.16), (0.75, 0.13),
    (0.0, 0.05), (0.17, 0.03), (0.34, 0.07), (0.5, 0.04), (0.67, 0.06),
    (-0.1, -0.05), (0.08, -0.07), (0.25, -0.03), (0.42, -0.06), (0.58, -0.04), (0.75, -0.07),
    (0.0, -0.15), (0.17, -0.17), (0.34, -0.13), (0.5, -0.16), (0.67, -0.14),
    (-0.1, -0.25), (0.08, -0.27), (0.25, -0.23), (0.42, -0.26), (0.58, -0.24), (0.75, -0.27),
    (0.0, -0.35), (0.17, -0.37), (0.34, -0.33), (0.5, -0.36), (0.67, -0.34),
    (-0.05, -0.45), (0.1, -0.47), (0.27, -0.43), (0.44, -0.46), (0.6, -0.44),
    (0.05, -0.55), (0.22, -0.57), (0.38, -0.53), (0.55, -0.56), (0.72, -0.54),
    (0.0, -0.65), (0.17, -0.67), (0.34, -0.63), (0.5, -0.66),
    (0.1, -0.75), (0.27, -0.77), (0.44, -0.73), (0.6, -0.76),
    (0.2, -0.85), (0.37, -0.87), (0.52, -0.83), (0.28, -0.95), (0.42, -0.98), (0.35, -1.05),
    (0.95, 0.85), (1.1, 0.9), (1.25, 0.95), (1.2, 0.8), (1.0, 0.7), (1.15, 0.72), (1.3, 0.68), (0.95, 0.55),
    (1.08, 0.6), (1.22, 0.55), (1.35, 0.5), (1.0, 0.42), (1.15, 0.45), (1.28, 0.38), (0.92, 0.3), (1.05, 0.28),
    (1.2, 0.3), (1.33, 0.22), (0.98, 0.15), (1.12, 0.12), (1.27, 0.1), (0.93, 0.0), (1.07, -0.02), (1.2, -0.05),
    (1.35, 0.0), (1.0, -0.15), (1.15, -0.18), (1.3, -0.12), (0.95, -0.3), (1.1, -0.3), (1.25, -0.28), (1.05, -0.45),
    (1.2, -0.45), (1.35, -0.4), (1.0, -0.6), (1.15, -0.62), (1.3, -0.55), (0.85, -0.7),
    (0.8, 0.4), (0.85, 0.1), (0.82, -0.2), (0.8, -0.45), (0.85, 0.7), (0.78, 0.85),
    (0.9, 0.6), (1.05, 0.75), (1.2, 0.6), (1.1, 0.35), (1.25, 0.2), (1.0, 0.05), (1.15, -0.1), (1.3, -0.25),
    (1.1, -0.55), (0.95, -0.45), (1.25, -0.6),
]

mor_pts = [
    (1.72, 1.55), (-0.39, 1.39), (-0.43, 1.24), (-0.36, 1.20), (0.48, 1.31), (0.60, 1.04), (1.27, 0.90),
    (1.50, 1.13), (1.55, 1.08), (1.74, 1.27), (1.91, 1.24), (2.02, 0.96), (2.44, 0.96), (2.25, 0.82),
    (2.95, 0.80), (3.50, 0.50), (3.51, 0.43), (3.59, 0.34), (3.09, 0.40), (2.44, 0.61), (2.49, 0.57),
    (2.77, 0.22), (2.67, 0.06), (3.59, -0.16), (4.41, -0.37), (4.21, -0.87), (4.0, -1.08), (3.33, -0.69),
    (2.95, -0.44), (2.93, -0.37), (2.82, -0.59), (2.72, -0.92), (2.25, -0.79), (2.02, -0.79), (1.83, -0.79),
    (1.74, -1.14), (1.64, -1.14), (1.88, -1.13), (1.22, -1.19), (1.01, -0.93), (1.08, -0.97), (1.44, -1.52),
    (0.34, -1.56), (0.32, -1.77), (-0.20, -1.64), (-0.53, -1.49), (-0.80, -1.71), (-0.80, -1.24),
    (-0.55, -1.24), (0.15, -1.40), (0.07, -1.43), (-0.04, -1.21), (0.34, -1.06), (0.17, -0.90),
    (-0.85, 1.1), (-0.85, 0.95), (-0.85, 0.8), (-0.85, 0.65), (-0.85, 0.5), (-0.85, 0.35), (-0.85, 0.2),
    (-0.85, 0.05), (-0.85, -0.1), (-0.85, -0.25), (-0.85, -0.4), (-0.85, -0.55), (-0.85, -0.7), (-0.85, -0.85),
    (-0.85, -1.0), (-0.85, -1.15), (-0.85, -1.3),
    (-0.78, 0.9), (-0.78, 0.6), (-0.78, 0.3), (-0.78, 0.0), (-0.78, -0.3), (-0.78, -0.6), (-0.78, -0.9), (-0.78, -1.2),
    (-0.72, 1.02), (-0.72, 0.87), (-0.72, 0.72), (-0.72, 0.57), (-0.72, 0.42), (-0.72, 0.27), (-0.72, 0.12),
    (-0.72, -0.03), (-0.72, -0.18), (-0.72, -0.33), (-0.72, -0.48), (-0.72, -0.63), (-0.72, -0.78),
    (-0.72, -0.93), (-0.72, -1.08),
    (-0.65, 1.05), (-0.65, 0.75), (-0.65, 0.45), (-0.65, 0.15), (-0.65, -0.15), (-0.65, -0.45), (-0.65, -0.75), (-0.65, -1.05),
    (-0.58, 1.1), (-0.58, 0.95), (-0.58, 0.8), (-0.58, 0.65), (-0.58, 0.5), (-0.58, 0.35), (-0.58, 0.2),
    (-0.58, 0.05), (-0.58, -0.1), (-0.58, -0.25), (-0.58, -0.4), (-0.58, -0.55), (-0.58, -0.7), (-0.58, -0.85),
    (-0.58, -1.0), (-0.58, -1.25),
    (-0.5, 0.85), (-0.5, 0.55), (-0.5, 0.25), (-0.5, -0.05), (-0.5, -0.35), (-0.5, -0.65), (-0.5, -0.95),
    (-0.44, 0.9), (-0.44, 0.75), (-0.44, 0.6), (-0.44, 0.45), (-0.44, 0.3), (-0.44, 0.15), (-0.44, 0.0),
    (-0.44, -0.15), (-0.44, -0.3), (-0.44, -0.45), (-0.44, -0.6), (-0.44, -0.75), (-0.44, -0.9),
    (-0.3, 0.8), (-0.3, 0.6), (-0.3, 0.45), (-0.3, 0.3), (-0.3, 0.15), (-0.3, 0.0), (-0.3, -0.15), (-0.3, -0.3),
    (-0.3, -0.45), (-0.3, -0.6), (-0.3, -0.8),
    (-0.15, 0.7), (0.0, 0.55), (0.15, 0.8), (0.3, 0.6), (0.45, 0.75), (0.6, 0.5), (0.75, 0.65), (0.9, 0.85),
    (-0.1, 0.35), (0.05, 0.2), (0.2, 0.4), (0.35, 0.25), (0.5, 0.35), (0.65, 0.15), (0.8, 0.3), (0.95, 0.45),
    (-0.15, 0.05), (0.0, -0.1), (0.15, 0.0), (0.3, -0.15), (0.45, 0.05), (0.6, -0.2), (0.75, -0.05), (0.9, 0.1),
    (-0.1, -0.3), (0.05, -0.45), (0.2, -0.3), (0.35, -0.5), (0.5, -0.35), (0.65, -0.55), (0.8, -0.4), (0.95, -0.25),
    (-0.15, -0.6), (0.0, -0.75), (0.15, -0.6), (0.3, -0.8), (0.5, -0.7), (0.7, -0.85), (0.1, -0.95), (-0.05, -1.05),
    (-0.1, 0.85), (0.05, 0.7), (0.2, 0.6), (0.35, 0.45), (0.55, 0.65), (0.7, 0.4), (0.85, 0.6), (0.0, 0.35),
    (0.15, 0.15), (0.3, 0.1), (0.45, 0.3), (0.6, 0.0), (0.75, 0.2), (0.9, -0.1), (-0.05, -0.2), (0.1, -0.35),
    (0.25, -0.05), (0.4, -0.3), (0.55, -0.45), (0.7, -0.3), (0.85, -0.6), (-0.1, -0.45), (0.1, -0.65), (0.25, -0.55),
    (0.4, -0.7), (-0.15, -0.85), (-0.05, 0.5), (0.3, 0.85), (0.6, 0.85), (-0.15, -0.15), (-0.2, 0.25), (-0.2, 0.5),
    (-0.2, -0.35),
    (1.05, 0.6), (1.15, 0.45), (1.25, 0.65), (1.35, 0.3), (1.45, 0.55), (1.55, 0.75), (1.65, 0.4), (1.75, 0.6),
    (1.85, 0.25), (1.95, 0.5), (2.1, 0.35), (2.2, 0.15), (2.35, 0.45), (2.5, 0.3), (2.6, 0.1), (2.75, 0.4),
    (3.0, 0.2), (3.2, 0.1), (1.1, 0.1), (1.2, -0.1), (1.3, 0.05), (1.4, -0.25), (1.5, -0.05), (1.6, -0.35),
    (1.7, 0.0), (1.8, -0.2), (1.9, -0.45), (2.05, -0.1), (2.15, -0.3), (2.3, -0.5), (2.4, 0.0), (2.55, -0.25),
    (2.65, -0.6), (2.85, -0.15), (3.1, -0.3), (3.4, 0.0), (1.05, -0.45), (1.2, -0.65), (1.35, -0.8), (1.5, -0.6),
    (1.7, -0.85), (2.0, -0.65), (2.5, -0.8), (1.15, 0.85), (1.4, 0.95), (1.9, 0.8), (2.2, 0.65),
]

na_x0_resid = [1.55, 1.32, 1.27, 1.22, 1.17, 1.12, 1.07, 1.02, 0.97, 0.92, 0.87, 0.82, 0.77, 0.72, 0.67,
               0.62, 0.57, 0.52, 0.47, 0.42, 0.37, 0.32, 0.27, 0.22, 0.17, 0.12, 0.07, 0.02, -0.03, -0.08,
               -0.13, -0.18, -0.23, -0.28, -0.33, -0.38, -0.43, -0.48, -0.53, -0.58, -0.63, -0.68, -0.73,
               -0.78, -0.83, -0.88, -0.93, -0.98, -1.03, -1.08, -1.13, -1.18, -1.23, -1.28, -1.31,
               -1.38, -1.45, -1.52, -1.59, -1.66, -1.73, -1.77]
na_x1_resid = [1.38, 1.20, 0.87, 0.71, 0.66, 0.60, 0.55, 0.50, 0.44, 0.39, 0.33, 0.28, 0.22, 0.17, 0.11,
               0.06, 0.00, -0.05, -0.11, -0.16, -0.22, -0.27, -0.33, -0.38, -0.44, -0.49, -0.55, -0.60,
               -0.66, -0.71, -0.77, -0.82, -0.88, -0.93, -1.00, -1.07, -1.22, -1.42]

cor_pts = [
    (-0.03, 1.57), (-0.73, 1.38), (-0.64, 1.18), (-0.59, 1.13), (-0.09, 1.31), (0.0, 1.24), (1.07, 1.31),
    (0.97, 1.18), (-3.32, 0.85), (-3.0, 0.80), (-2.88, 0.80), (-2.71, 0.85), (-3.09, 0.57), (-3.05, 0.43),
    (-2.95, 0.62), (-2.86, 0.57), (-2.77, 0.36), (-3.14, 0.26), (-3.0, 0.19), (-3.16, 0.03), (-3.02, 0.03),
    (-3.5, -0.34), (-3.32, -0.43), (-3.68, -0.51), (-3.84, -0.69), (-3.62, -0.99), (-3.59, -1.01),
    (-3.39, -1.09), (-3.2, -1.15), (-3.18, -1.24), (-2.88, -1.13), (-3.05, -0.62), (-2.75, -0.72),
    (-3.77, -1.71), (-2.27, -0.51), (-2.02, -0.57), (-2.32, -0.31), (-2.18, -0.27), (-1.5, -0.51),
    (-1.35, -0.69), (-1.18, -0.55), (-1.02, -0.37), (-0.84, -0.72), (-0.75, -1.10), (-0.59, -1.13),
    (-2.55, 0.26), (-2.45, 0.29), (-2.36, 0.47), (-2.23, 0.26), (-2.05, 0.15), (-1.82, 0.57), (-1.73, 0.41),
    (-1.86, 0.34), (-1.77, -0.02), (-1.91, -0.13), (-1.68, -0.16), (-1.59, -0.09), (-2.09, -0.20),
    (-2.05, -0.09), (-1.44, 0.40), (-1.32, 0.75), (-1.27, 0.66), (-1.23, 0.43), (-1.18, -0.02), (-1.09, -0.09),
    (-1.0, 0.19), (-0.91, -0.13), (-0.82, 0.47), (-0.64, 0.64), (-0.55, 0.57), (-2.64, 0.26), (-2.45, 0.12),
    (-2.18, 0.05), (-2.32, -0.06), (-2.55, 0.05), (-2.73, 0.15),
    (0.32, -1.77), (0.91, -1.63), (-0.2, -1.55), (-0.14, -1.59), (-0.09, -1.42), (-0.36, -1.27), (1.09, -1.24),
    (1.18, -0.72), (1.23, -0.73),
    (0.3, 0.92), (0.55, 0.9), (0.8, 0.93), (1.0, 0.9),
    (-0.2, 0.82), (0.1, 0.8), (0.35, 0.84), (0.6, 0.8), (0.85, 0.83), (1.05, 0.8),
    (-0.4, 0.7), (-0.15, 0.68), (0.05, 0.72), (0.25, 0.69), (0.45, 0.71), (0.65, 0.68), (0.85, 0.72), (1.05, 0.69), (1.2, 0.7),
    (-0.3, 0.58), (-0.1, 0.56), (0.1, 0.6), (0.3, 0.57), (0.5, 0.59), (0.7, 0.56), (0.9, 0.6), (1.1, 0.57),
    (-0.45, 0.46), (-0.2, 0.44), (0.0, 0.48), (0.2, 0.45), (0.4, 0.47), (0.6, 0.44), (0.8, 0.48), (1.0, 0.45), (1.18, 0.47),
    (-0.35, 0.34), (-0.1, 0.32), (0.1, 0.36), (0.3, 0.33), (0.5, 0.35), (0.7, 0.32), (0.9, 0.36), (1.1, 0.33),
    (-0.5, 0.22), (-0.25, 0.2), (0.0, 0.24), (0.2, 0.21), (0.4, 0.23), (0.6, 0.2), (0.8, 0.24), (1.0, 0.21), (1.18, 0.23),
    (-0.35, 0.1), (-0.1, 0.08), (0.1, 0.12), (0.3, 0.09), (0.5, 0.11), (0.7, 0.08), (0.9, 0.12), (1.1, 0.09),
    (-0.5, -0.02), (-0.25, -0.04), (0.0, 0.0), (0.2, -0.03), (0.4, -0.01), (0.6, -0.04), (0.8, 0.0), (1.0, -0.03), (1.18, -0.01),
    (-0.35, -0.14), (-0.1, -0.16), (0.1, -0.12), (0.3, -0.15), (0.5, -0.13), (0.7, -0.16), (0.9, -0.12), (1.1, -0.15),
    (-0.45, -0.26), (-0.2, -0.28), (0.0, -0.24), (0.2, -0.27), (0.4, -0.25), (0.6, -0.28), (0.8, -0.24), (1.0, -0.27), (1.18, -0.25),
    (-0.3, -0.38), (-0.1, -0.4), (0.1, -0.36), (0.3, -0.39), (0.5, -0.37), (0.7, -0.4), (0.9, -0.36), (1.1, -0.39),
    (-0.4, -0.5), (-0.2, -0.52), (0.0, -0.48), (0.2, -0.51), (0.4, -0.49), (0.6, -0.52), (0.8, -0.48), (1.0, -0.51),
    (-0.3, -0.62), (-0.05, -0.64), (0.15, -0.6), (0.35, -0.63), (0.55, -0.61), (0.75, -0.64), (0.95, -0.6), (1.12, -0.63),
    (-0.2, -0.74), (0.05, -0.76), (0.25, -0.72), (0.45, -0.75), (0.65, -0.73), (0.85, -0.76), (1.05, -0.72),
    (-0.1, -0.86), (0.15, -0.88), (0.35, -0.84), (0.55, -0.87), (0.75, -0.85), (1.0, -0.88),
    (0.0, -0.98), (0.25, -1.0), (0.5, -0.96), (0.7, -0.99), (0.95, -1.0),
    (0.1, -1.1), (0.4, -1.12), (0.65, -1.08), (0.85, -1.12), (0.2, -1.22), (0.5, -1.25), (0.75, -1.2),
    (-0.05, -1.35), (0.35, -1.38), (0.6, -1.35),
    (-0.95, 0.2), (-0.85, -0.25), (-0.75, 0.35), (-0.7, -0.5), (-0.65, 0.05), (-0.6, -0.3), (-0.55, 0.7),
    (-0.7, -0.85), (-0.6, -0.95), (-0.8, 0.6), (-0.9, -0.45),
    (-0.05, 0.76), (0.15, 0.76), (0.35, 0.77), (0.55, 0.76), (0.75, 0.77), (0.95, 0.76), (1.15, 0.75),
    (-0.2, 0.64), (0.0, 0.64), (0.2, 0.63), (0.4, 0.65), (0.6, 0.64), (0.8, 0.63), (1.0, 0.65), (1.18, 0.64),
    (-0.4, 0.52), (-0.2, 0.52), (0.0, 0.51), (0.2, 0.53), (0.4, 0.52), (0.6, 0.51), (0.8, 0.53), (1.0, 0.52), (1.18, 0.52),
    (-0.3, 0.4), (-0.1, 0.39), (0.1, 0.41), (0.3, 0.4), (0.5, 0.39), (0.7, 0.41), (0.9, 0.4), (1.1, 0.39),
    (-0.45, 0.28), (-0.2, 0.28), (0.0, 0.27), (0.2, 0.29), (0.4, 0.28), (0.6, 0.27), (0.8, 0.29), (1.0, 0.28), (1.18, 0.28),
    (-0.3, 0.16), (-0.1, 0.15), (0.1, 0.17), (0.3, 0.16), (0.5, 0.15), (0.7, 0.17), (0.9, 0.16), (1.1, 0.15),
    (-0.4, 0.04), (-0.2, 0.04), (0.0, 0.05), (0.2, 0.03), (0.4, 0.04), (0.6, 0.05), (0.8, 0.03), (1.0, 0.04), (1.18, 0.05),
    (-0.3, -0.08), (-0.1, -0.09), (0.1, -0.07), (0.3, -0.08), (0.5, -0.09), (0.7, -0.07), (0.9, -0.08), (1.1, -0.09),
    (-0.4, -0.2), (-0.2, -0.2), (0.0, -0.21), (0.2, -0.19), (0.4, -0.2), (0.6, -0.21), (0.8, -0.19), (1.0, -0.2), (1.18, -0.2),
    (-0.35, -0.32), (-0.1, -0.33), (0.1, -0.31), (0.3, -0.32), (0.5, -0.33), (0.7, -0.31), (0.9, -0.32), (1.1, -0.33),
    (-0.3, -0.44), (-0.1, -0.44), (0.1, -0.45), (0.3, -0.43), (0.5, -0.44), (0.7, -0.45), (0.9, -0.43), (1.1, -0.44),
    (-0.2, -0.56), (0.05, -0.57), (0.25, -0.55), (0.45, -0.56), (0.65, -0.57), (0.85, -0.55), (1.05, -0.56),
    (-0.1, -0.68), (0.15, -0.69), (0.35, -0.67), (0.55, -0.68), (0.75, -0.69), (0.95, -0.67), (1.15, -0.68),
    (0.0, -0.8), (0.25, -0.81), (0.45, -0.79), (0.65, -0.8), (0.9, -0.81), (1.1, -0.79),
    (0.1, -0.92), (0.35, -0.93), (0.6, -0.91), (0.85, -0.92),
    (0.15, -1.04), (0.4, -1.05), (0.75, -1.03), (0.95, -1.06),
    (0.3, -1.16), (0.6, -1.17), (0.9, -1.15), (0.4, -1.29), (0.7, -1.28), (0.1, -1.25),
]

sa_x0_resid = [1.55, 1.39, 1.34, 1.29, 1.24, 1.19, 1.14, 1.09, 1.04, 0.99, 0.94, 0.89, 0.84, 0.79, 0.74,
               0.69, 0.64, 0.59, 0.54, 0.49, 0.44, 0.39, 0.34, 0.29, 0.24, 0.19, 0.14, 0.09, 0.04, -0.01,
               -0.06, -0.11, -0.16, -0.21, -0.26, -0.31, -0.36, -0.41, -0.46, -0.51, -0.56, -0.61, -0.66,
               -0.71, -0.76, -0.81, -0.86, -0.91, -0.96, -1.01, -1.06, -1.11, -1.16, -1.21, -1.26, -1.31,
               -1.35, -1.42, -1.49, -1.56, -1.71, -1.77]
sa_x1_resid = [1.22, 0.97, 0.89, 0.80, 0.69, 0.64, 0.54, 0.49, 0.44, 0.39, 0.34, 0.29, 0.24, 0.19, 0.14,
               0.09, 0.04, -0.01, -0.06, -0.11, -0.16, -0.21, -0.26, -0.31, -0.36, -0.41, -0.46, -0.51,
               -0.55, -0.72, -0.79, -0.86, -1.16, -1.64]

# ---------------- build figure ----------------
na_pts = [(0.0, r) for r in na_x0_resid] + [(1.0, r) for r in na_x1_resid]
sa_pts = [(0.0, r) for r in sa_x0_resid] + [(1.0, r) for r in sa_x1_resid]

panel_pts = [gdp_pts, pa_pts, gen_pts, rur_pts, soc_pts, hle_pts, mor_pts, na_pts, cor_pts, sa_pts]
panel_segs = [
    (gdp_seg_start, gdp_seg_end, gdp_seg_mean), (pa_seg_start, pa_seg_end, pa_seg_mean),
    (gen_seg_start, gen_seg_end, gen_seg_mean), (rur_seg_start, rur_seg_end, rur_seg_mean),
    (soc_seg_start, soc_seg_end, soc_seg_mean), (hle_seg_start, hle_seg_end, hle_seg_mean),
    (mor_seg_start, mor_seg_end, mor_seg_mean), (na_seg_start, na_seg_end, na_seg_mean),
    (cor_seg_start, cor_seg_end, cor_seg_mean), (sa_seg_start, sa_seg_end, sa_seg_mean),
]

# full-window figure; the page's default body margin is removed after plotting
W, H = 1249, 423
col_left = [57.0, 302.5, 548.5, 794.0, 1039.5]
box_w = 205.5
row_top = [23.0, 232.5]
row_bot = [197.0, 406.0]

FONT = "DejaVu Sans"
TXT = "#262626"
AX = "#555555"

fig = go.Figure()
layout = {}
annotations = []

for i in range(10):
    r, c = divmod(i, 5)
    suf = "" if i == 0 else str(i + 1)
    pts = panel_pts[i]
    fig.add_trace(go.Scatter(
        x=[p[0] for p in pts], y=[p[1] for p in pts], mode="markers",
        marker=dict(size=6.5, color="#1f77b4", line=dict(width=0)),
        xaxis="x" + suf, yaxis="y" + suf, showlegend=False, hoverinfo="skip"))
    s0, s1, sm = panel_segs[i]
    lx, ly = [], []
    for a, b, m in zip(s0, s1, sm):
        lx += [a, b, None]
        ly += [m, m, None]
    fig.add_trace(go.Scatter(
        x=lx, y=ly, mode="lines", line=dict(color="black", width=1.3, dash="9px,3px,2px,3px"),
        xaxis="x" + suf, yaxis="y" + suf, showlegend=False, hoverinfo="skip"))

    x0 = col_left[c] / W
    x1 = (col_left[c] + box_w) / W
    y0 = 1 - row_bot[r] / H
    y1 = 1 - row_top[r] / H
    is_bin = i in (7, 9)
    layout["xaxis" + suf] = dict(
        domain=[x0, x1], anchor="y" + suf, range=x_ranges[i], tickvals=x_ticks[i],
        tickformat=".1f" if is_bin else "d", showgrid=False, zeroline=False,
        showline=True, mirror=True, linecolor=AX, linewidth=1,
        ticks="outside", ticklen=3.5, tickwidth=1, tickcolor=AX, ticklabelstandoff=-3,
        tickfont=dict(family=FONT, size=10.5, color=TXT), automargin=False)
    layout["yaxis" + suf] = dict(
        domain=[y0, y1], anchor="x" + suf, range=y_range, tickvals=y_ticks,
        tickformat=".1f", showticklabels=(c == 0), showgrid=False, zeroline=False,
        showline=True, mirror=True, linecolor=AX, linewidth=1,
        ticks="outside", ticklen=3.5, tickwidth=1, tickcolor=AX, ticklabelstandoff=-3,
        tickfont=dict(family=FONT, size=10.5, color=TXT), automargin=False)

    annotations.append(dict(
        text=titles[i], xref="paper", yref="paper",
        x=(col_left[c] + box_w / 2) / W, y=1 - (row_top[r] - 8.5) / H,
        xanchor="center", yanchor="middle", showarrow=False,
        font=dict(family=FONT, size=12, color=TXT)))
    lab_x = 18.0 if c == 0 else col_left[c] - 10.0
    annotations.append(dict(
        text="residual", xref="paper", yref="paper",
        x=lab_x / W, y=1 - (row_top[r] + row_bot[r]) / 2 / H,
        xanchor="center", yanchor="middle", textangle=-90, showarrow=False,
        font=dict(family=FONT, size=15, color=TXT)))

layout["annotations"] = annotations
fig.update_layout(
    width=W, height=H, margin=dict(l=0, r=0, t=0, b=0), hovermode=False,
    paper_bgcolor="white", plot_bgcolor="white", showlegend=False, **layout)

fig.write_html("out.html", config={"displayModeBar": False},
               post_script="document.body.style.margin='0px';document.body.style.overflow='hidden';")
